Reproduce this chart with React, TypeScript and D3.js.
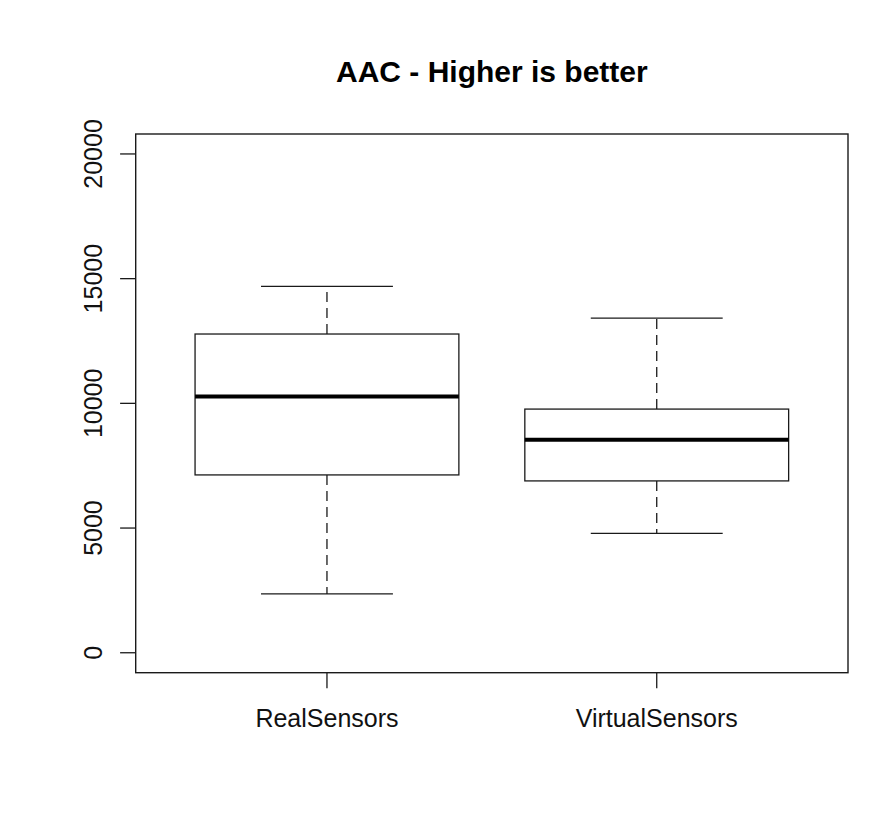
import React from "react";
import * as d3 from "d3";

const title = "AAC - Higher is better";
const categories = ["RealSensors", "VirtualSensors"];
const lowerWhisker = [2360, 4790];
const q1 = [7130, 6890];
const median = [10270, 8540];
const q3 = [12780, 9770];
const upperWhisker = [14690, 13420];
const yTicks = [0, 5000, 10000, 15000, 20000];
const yLim = [0, 20000];

export default function App() {
  const W = 880, H = 824;
  const left = 135.7, right = 848, top = 134, bottom = 672.7;
  const yPad = (yLim[1] - yLim[0]) * 0.04;
  const y = d3.scaleLinear().domain([yLim[0] - yPad, yLim[1] + yPad]).range([bottom, top]);
  const xPad = (categories.length) * 0.04;
  const x = d3.scaleLinear().domain([0.5 - xPad, categories.length + 0.5 + xPad]).range([left, right]);
  const boxW = 0.4;
  const capW = 0.2;
  const font = "'Liberation Sans', Arial, Helvetica, sans-serif";
  const stroke = "#1a1a1a";
  return (
    <svg width={W} height={H} style={{ position: "absolute", left: 0, top: 0, background: "#fff" }}>
      <rect x={0} y={0} width={W} height={H} fill="#fff" />
      <text x={(left + right) / 2} y={82} textAnchor="middle" fontFamily={font} fontWeight="bold" fontSize={30} fill="#000">{title}</text>
      {categories.map((c, i) => {
        const cx = x(i + 1);
        return (
          <g key={c}>
            <line x1={cx} x2={cx} y1={y(q3[i])} y2={y(upperWhisker[i])} stroke={stroke} strokeWidth={1.3} strokeDasharray="10,6" />
            <line x1={cx} x2={cx} y1={y(q1[i])} y2={y(lowerWhisker[i])} stroke={stroke} strokeWidth={1.3} strokeDasharray="10,6" />
            <line x1={x(i + 1 - capW)} x2={x(i + 1 + capW)} y1={y(upperWhisker[i])} y2={y(upperWhisker[i])} stroke={stroke} strokeWidth={1.3} />
            <line x1={x(i + 1 - capW)} x2={x(i + 1 + capW)} y1={y(lowerWhisker[i])} y2={y(lowerWhisker[i])} stroke={stroke} strokeWidth={1.3} />
            <rect x={x(i + 1 - boxW)} y={y(q3[i])} width={x(i + 1 + boxW) - x(i + 1 - boxW)} height={y(q1[i]) - y(q3[i])} fill="none" stroke={stroke} strokeWidth={1.3} />
            <line x1={x(i + 1 - boxW)} x2={x(i + 1 + boxW)} y1={y(median[i])} y2={y(median[i])} stroke="#000" strokeWidth={4} />
            <line x1={cx} x2={cx} y1={bottom} y2={bottom + 15.6} stroke={stroke} strokeWidth={1.3} />
            <text x={cx} y={726.5} textAnchor="middle" fontFamily={font} fontSize={25} fill="#111">{c}</text>
          </g>
        );
      })}
      {yTicks.map((t) => (
        <g key={t}>
          <line x1={left - 15.6} x2={left} y1={y(t)} y2={y(t)} stroke={stroke} strokeWidth={1.3} />
          <text transform={`translate(101.5,${y(t)}) rotate(-90)`} textAnchor="middle" fontFamily={font} fontSize={25} fill="#111">{t}</text>
        </g>
      ))}
      <rect x={left} y={top} width={right - left} height={bottom - top} fill="none" stroke={stroke} strokeWidth={1.4} />
    </svg>
  );
}
